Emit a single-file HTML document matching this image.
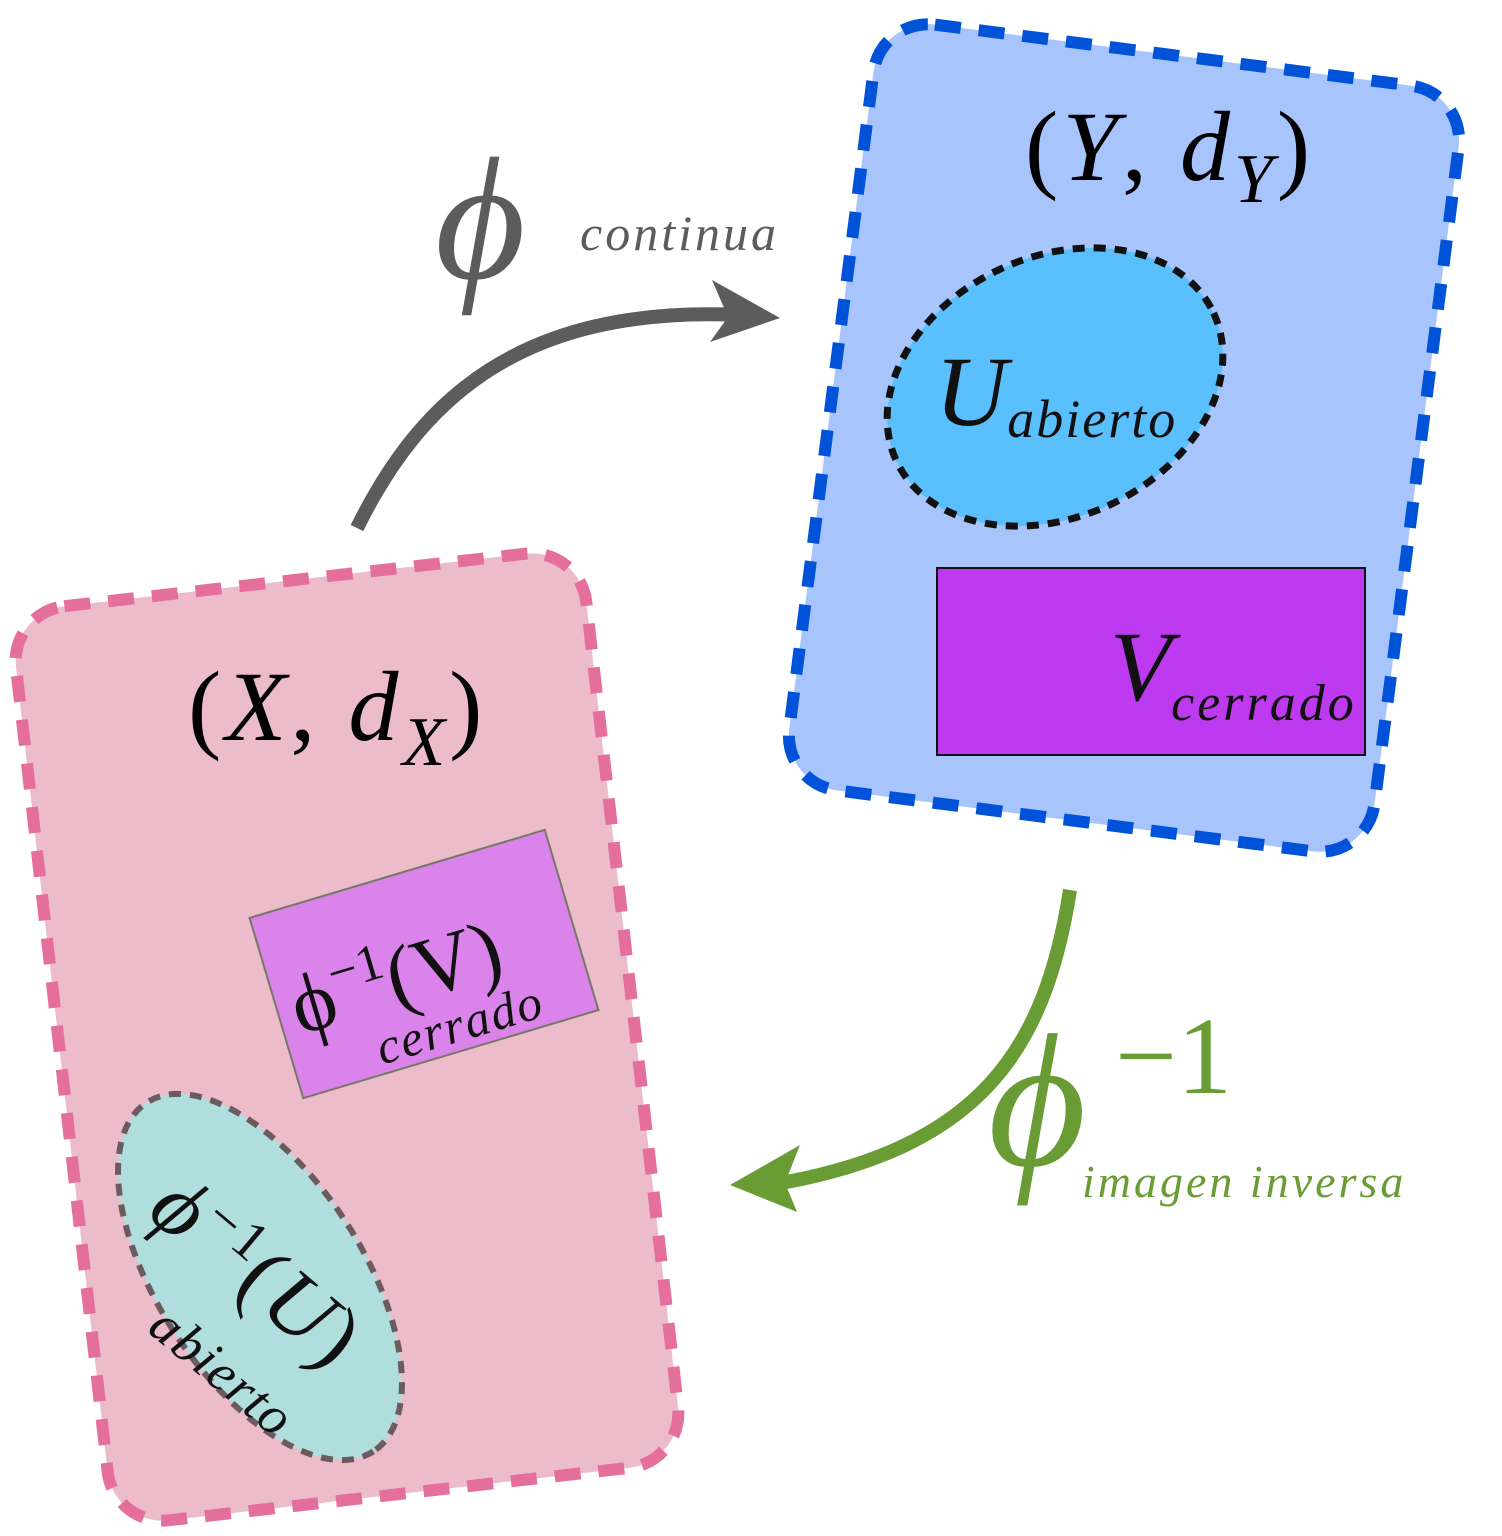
<!DOCTYPE html>
<html><head><meta charset="utf-8"><style>html,body{margin:0;padding:0;background:#fff}svg{display:block}</style></head><body>
<svg width="1502" height="1536" viewBox="0 0 1502 1536" xmlns="http://www.w3.org/2000/svg" font-family="Liberation Serif, serif">
<g transform="translate(347,1037) rotate(-6.5)">
<rect x="-287" y="-460" width="574" height="920" rx="55" fill="#ecbccb" stroke="#e56f9c" stroke-width="12" stroke-dasharray="26,18"/>
</g>
<g transform="translate(1124,438) rotate(7.3)">
<rect x="-295" y="-386" width="590" height="772" rx="55" fill="#a8c4fd" stroke="#0052d9" stroke-width="12" stroke-dasharray="26,18"/>
</g>
<ellipse cx="1055" cy="387" rx="175" ry="130" transform="rotate(-25 1055 387)" fill="#5abffd" stroke="#111" stroke-width="7" stroke-dasharray="12,9"/>
<rect x="937" y="568" width="428" height="187" fill="#bd3af0" stroke="#111" stroke-width="2"/>
<g transform="translate(424,964) rotate(-16.6)">
<rect x="-154" y="-94" width="308" height="188" fill="#da83ea" stroke="#776" stroke-width="2"/>
</g>
<ellipse cx="260" cy="1277" rx="208" ry="102" transform="rotate(57 260 1277)" fill="#b0dedd" stroke="#6b5a5e" stroke-width="6" stroke-dasharray="12,9"/>
<path d="M357,528 C420,400 520,305 740,315" fill="none" stroke="#5c5c5c" stroke-width="14"/>
<polygon points="780,318 712,280 728,317 710,342" fill="#5c5c5c"/>
<path d="M1070,890 C1045,1050 980,1150 770,1185" fill="none" stroke="#6a9c35" stroke-width="14"/>
<polygon points="730,1185 800,1145 785,1183 797,1212" fill="#6a9c35"/>
<text x="1025" y="180" font-size="100" letter-spacing="4">(<tspan font-style="italic">Y</tspan>, <tspan font-style="italic">d</tspan><tspan font-style="italic" font-size="70" dy="22">Y</tspan><tspan dy="-22">)</tspan></text>
<text x="188" y="740" font-size="100" letter-spacing="4">(<tspan font-style="italic">X</tspan>, <tspan font-style="italic">d</tspan><tspan font-style="italic" font-size="70" dy="25">X</tspan><tspan dy="-25">)</tspan></text>
<text x="435" y="278" font-size="175" font-style="italic" fill="#5c5c5c">ϕ</text>
<text x="580" y="250" font-size="50" font-style="italic" fill="#5c5c5c" letter-spacing="3">continua</text>
<text x="935" y="425" font-size="100" font-style="italic" fill="#111">U<tspan font-size="54" dy="12" letter-spacing="2">abierto</tspan></text>
<text x="1110" y="700" font-size="100" font-style="italic" fill="#111">V<tspan font-size="52" dy="20" letter-spacing="3">cerrado</tspan></text>
<text x="988" y="1165" font-size="190" font-style="italic" fill="#6a9c35">ϕ</text>
<text x="1115" y="1093" font-size="110" fill="#6a9c35">−1</text>
<text x="1082" y="1197" font-size="46" font-style="italic" fill="#6a9c35" letter-spacing="3">imagen inversa</text>
<g transform="translate(300,1035) rotate(-16.6)">
<text x="0" y="0" font-size="84" fill="#111">ϕ<tspan font-size="52" dy="-32">−1</tspan><tspan dy="32">(V)</tspan></text>
<text x="70" y="52" font-size="50" font-style="italic" fill="#111" letter-spacing="2">cerrado</text>
</g>
<g transform="translate(145,1215) rotate(40)">
<text x="0" y="0" font-size="88" font-style="italic" fill="#111" letter-spacing="3">ϕ<tspan font-style="normal" font-size="56" dy="-30">−1</tspan><tspan font-style="normal" dy="30">(</tspan>U<tspan font-style="normal">)</tspan></text>
<text x="75" y="88" font-size="54" font-style="italic" fill="#111" letter-spacing="2">abierto</text>
</g>
</svg>
</body></html>
